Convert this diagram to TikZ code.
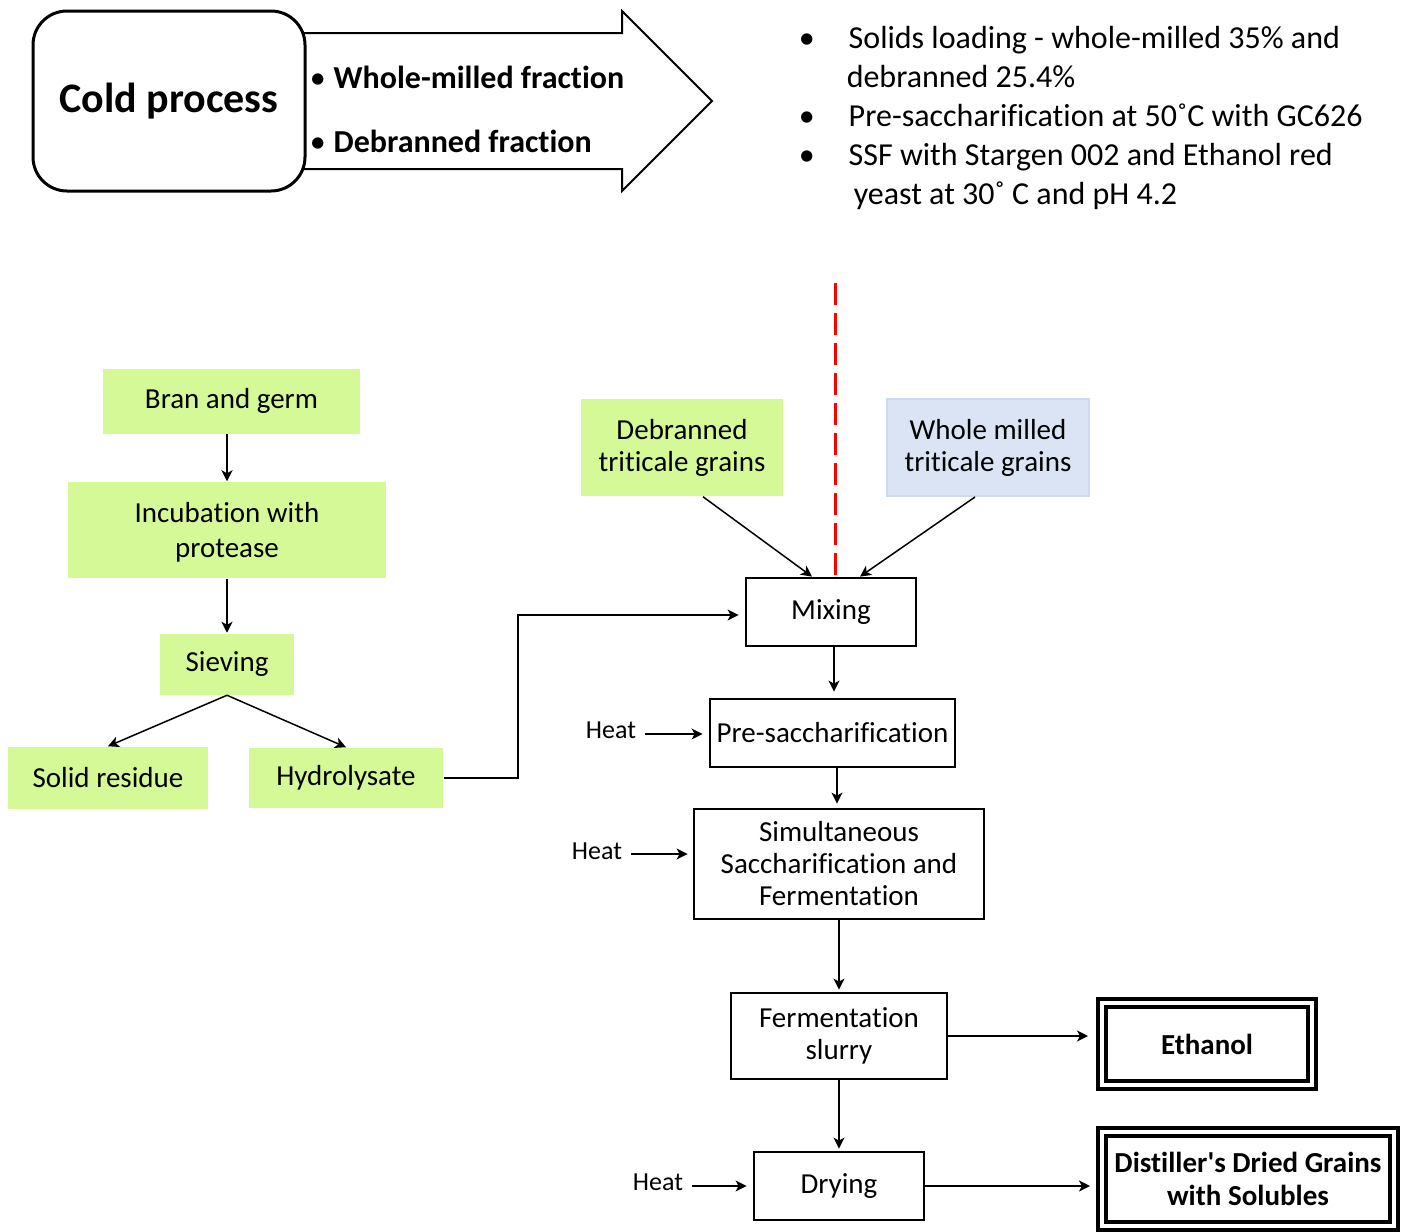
\documentclass[tikz,border=0pt]{standalone}
\usepackage{fontspec}
\setmainfont{Carlito}[Ligatures={NoCommon}]
\usetikzlibrary{arrows.meta}
\definecolor{leaf}{RGB}{214,249,151}
\definecolor{sky}{RGB}{219,228,244}
\definecolor{skyline}{RGB}{205,218,240}

\begin{document}
\begin{tikzpicture}[>={Stealth[length=5.5pt,width=5.5pt,inset=1.5pt]}, x=0.5pt, y=-0.5pt, line width=0.75pt,
	greenbox/.style={fill=leaf, align=center, inner sep=0pt, font=\fontsize{14.5}{17.5}\selectfont},
	procbox/.style={draw, line width=1.4pt, align=center, inner sep=0pt, font=\fontsize{14.5}{16}\selectfont},
	outbox/.style={draw, line width=2pt, double, double distance=2pt, align=center, inner sep=0pt, font=\bfseries\fontsize{14.5}{16.5}\selectfont},
	heatlabel/.style={font=\fontsize{13}{15}\selectfont, inner sep=4pt}]
	
	% Page frame
	\useasboundingbox (0,0) rectangle (1410,1232);
	
	% Header: big arrow and cold process box
	\draw[line width=1pt, fill=white] (290,33) -- (622,33) -- (622,11) -- (712,101) -- (622,191) -- (622,169) -- (290,169);
	\node[draw, line width=1.5pt, fill=white, rounded corners=17pt, minimum width=136pt, minimum height=90pt, font=\bfseries\fontsize{21}{25}\selectfont] (cold) at (169,101) {Cold process};
	\node[anchor=west, inner sep=0pt, font=\bfseries\fontsize{16}{19}\selectfont] (wholefrac) at (309,77) {{\mdseries\textbullet}\hspace{4pt}Whole-milled fraction};
	\node[anchor=west, inner sep=0pt, font=\bfseries\fontsize{16}{19}\selectfont] (debrfrac) at (309,141) {{\mdseries\textbullet}\hspace{4pt}Debranned fraction};
	
	% Conditions
	\node[anchor=north west, inner sep=0pt, font=\fontsize{16}{19.5}\selectfont] (notes) at (798,20) {%
		\begin{tabular}{@{}p{25pt}@{}l@{}}
			\textbullet & Solids loading - whole-milled 35\% and\\
			& \hspace{-1pt}debranned 25.4\%\\
			\textbullet & Pre-saccharification at 50˚C with GC626\\
			\textbullet & SSF with Stargen 002 and Ethanol red\\
			& \hspace{2.5pt}yeast at 30˚ C and pH 4.2
	\end{tabular}};
	
	% Bran treatment
	\node[greenbox, minimum width=128.5pt, minimum height=32.5pt] (bran) at (231.5,401) {Bran and germ};
	\node[greenbox, minimum width=159pt, minimum height=48pt, text depth=0pt] (incub) at (227,530) {Incubation with\\protease};
	\node[greenbox, minimum width=67pt, minimum height=30.5pt] (siev) at (227,664) {Sieving};
	\node[greenbox, minimum width=100pt, minimum height=31pt] (solid) at (108,778) {Solid residue};
	\node[greenbox, minimum width=97pt, minimum height=30pt] (hydro) at (346,778) {Hydrolysate};
	
	% Grains
	\node[greenbox, font=\fontsize{14.5}{16}\selectfont, minimum width=101pt, minimum height=48.5pt] (debr) at (682,447.5) {Debranned\\triticale grains};
	\node[greenbox, fill=sky, draw=skyline, line width=1pt, font=\fontsize{14.5}{16}\selectfont, minimum width=101pt, minimum height=48.5pt] (whole) at (988,447.5) {Whole milled\\triticale grains};
	
	% Process line
	\node[procbox, minimum width=85pt, minimum height=34pt] (mix) at (831,612) {Mixing};
	\node[procbox, minimum width=122.5pt, minimum height=34pt] (presac) at (832.5,733) {Pre-saccharification};
	\node[procbox, minimum width=145pt, minimum height=55pt] (ssf) at (839,864) {Simultaneous\\Saccharification and\\Fermentation};
	\node[procbox, minimum width=108pt, minimum height=43pt] (ferm) at (839,1036) {Fermentation\\slurry};
	\node[procbox, minimum width=85pt, minimum height=34pt] (dry) at (839,1186) {Drying};
	
	% Products
	\node[outbox, minimum width=105pt, minimum height=41pt] (eth) at (1207,1044) {Ethanol};
	\node[outbox, minimum width=146pt, minimum height=47pt] (ddgs) at (1248,1179) {Distiller\textquotesingle s Dried Grains\\with Solubles};
	
	% Heat inputs
	\node[heatlabel] (heatA) at (611,730) {Heat};
	\node[heatlabel] (heatB) at (597,851) {Heat};
	\node[heatlabel] (heatC) at (658,1182) {Heat};
	
	% Red dashed divider
	\coordinate (redtop) at (835,283);
	\draw[red, line width=1.5pt, dash pattern=on 11pt off 4pt] (redtop) -- (redtop |- mix.north);
	
	% Connectors
	\draw[->] (incub.north |- bran.south) -- (incub.north);
	\draw[->] (incub.south) -- (siev.north);
	\draw[->] (siev.south) -- (solid.north);
	\draw[->] (siev.south) -- (hydro.north);
	\draw[->, shorten >=3pt] (hydro.east) -- ++(37pt,0) |- ([yshift=-1.5pt]mix.west);
	\draw[->] ([xshift=10.5pt]debr.south) -- ([xshift=-9.5pt]mix.north);
	\draw[->] ([xshift=-6.5pt]whole.south) -- ([xshift=14.5pt]mix.north);
	\draw[->, shorten >=3pt] ([xshift=1.5pt]mix.south) -- ([xshift=1.5pt]mix.south |- presac.north);
	\draw[->, shorten >=2pt] ([xshift=2.25pt]presac.south) -- ([xshift=2.25pt]presac.south |- ssf.north);
	\draw[->, shorten >=1pt] (ssf.south) -- (ferm.north);
	\draw[->, shorten >=1pt] (ferm.south) -- (dry.north);
	\draw[->, shorten >=6pt] (ferm.east) -- (ferm.east -| eth.west);
	\draw[->, shorten >=5pt] (dry.east) -- (dry.east -| ddgs.west);
	\draw[->, shorten >=3pt] ([yshift=-2pt]heatA.east) -- ([yshift=-2pt]heatA.east -| presac.west);
	\draw[->, shorten >=2.5pt] ([yshift=-1.5pt]heatB.east) -- ([yshift=-1.5pt]heatB.east -| ssf.west);
	\draw[->, shorten >=3pt] ([yshift=-2pt]heatC.east) -- ([yshift=-2pt]heatC.east -| dry.west);
\end{tikzpicture}
\end{document}
